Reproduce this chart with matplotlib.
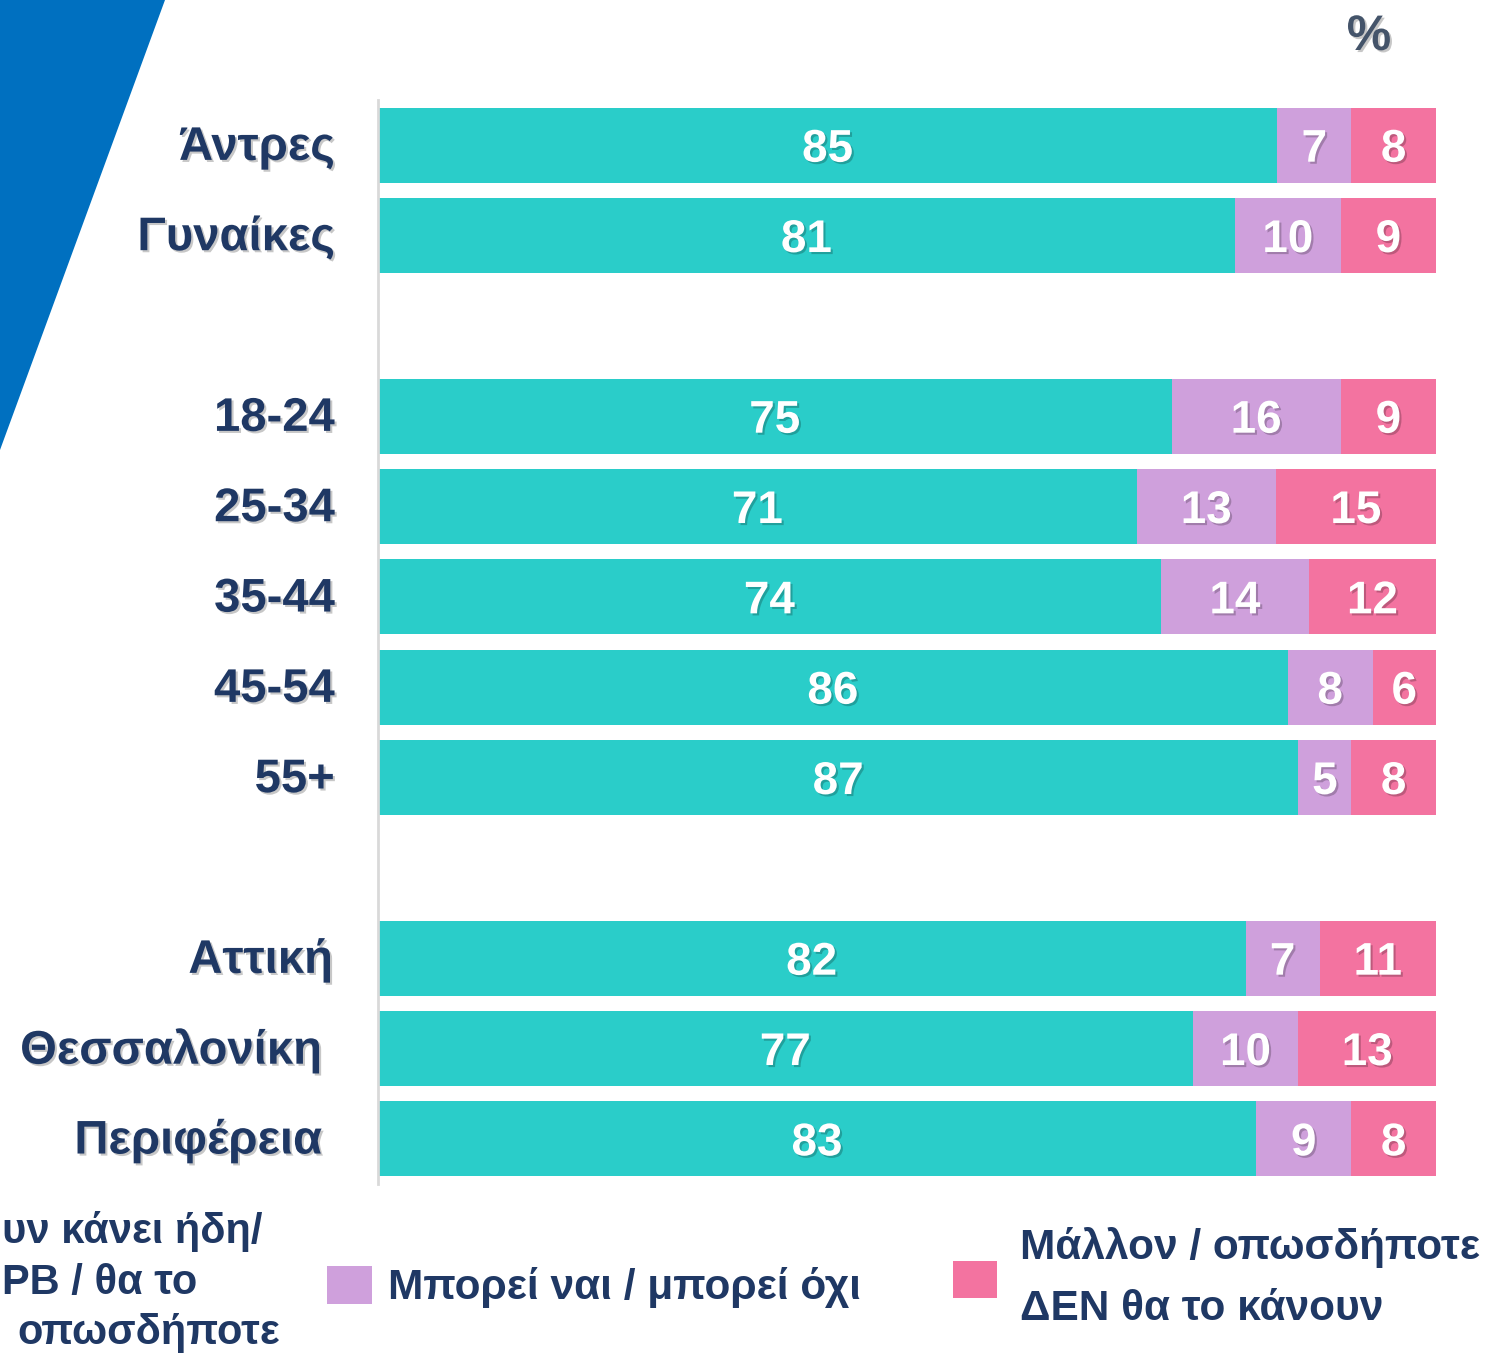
import matplotlib
matplotlib.use("Agg")
import matplotlib.pyplot as plt
import matplotlib.patheffects as pe
from matplotlib.patches import Polygon, Rectangle

plt.rcParams['font.family'] = ['Liberation Sans', 'DejaVu Sans']
plt.rcParams['font.weight'] = 'bold'

# ---------------- data ----------------
categories = ['Άντρες', 'Γυναίκες', '18-24', '25-34', '35-44', '45-54', '55+',
              'Αττική', 'Θεσσαλονίκη', 'Περιφέρεια']
yes_vals = [85, 81, 75, 71, 74, 86, 87, 82, 77, 83]
maybe_vals = [7, 10, 16, 13, 14, 8, 5, 7, 10, 9]
no_vals = [8, 9, 9, 15, 12, 6, 8, 11, 13, 8]
legend_maybe = 'Μπορεί ναι / μπορεί όχι'
legend_no = 'Μάλλον / οπωσδήποτε\nΔΕΝ θα το κάνουν'
# first legend entry is cut by the left edge in the original; only its visible part is shown
legend_yes_lines = ['υν κάνει ήδη/', 'ΡΒ / θα το', 'οπωσδήποτε']

# ---------------- style ----------------
C_YES = '#2ACDC9'
C_MAYBE = '#CFA0DC'
C_NO = '#F373A0'
NAVY = '#1F3864'
BLUE = '#0070C0'

row_pos = [0, 1, 3, 4, 5, 6, 7, 9, 10, 11]
label_right_px = [335, 335, 335, 335, 335, 335, 335, 333, 322, 322]

W, H = 1511, 1353
fig = plt.figure(figsize=(W / 100, H / 100), dpi=100)

# decorative blue triangle
fig.patches.append(Polygon([(0, 1), (165 / W, 1), (0, 1 - 450 / H)], closed=True,
                           transform=fig.transFigure, facecolor=BLUE, edgecolor='none', zorder=0))

ax = fig.add_axes([378 / W, (H - 1184) / H, (1436 - 378) / W, (1184 - 100) / H])

shadow = [pe.SimplePatchShadow(offset=(1.5, -1.5), shadow_rgbFace='#000000', alpha=0.22), pe.Normal()]

totals = [a + b + c for a, b, c in zip(yes_vals, maybe_vals, no_vals)]
yes_s = [v / t * 100 for v, t in zip(yes_vals, totals)]
maybe_s = [v / t * 100 for v, t in zip(maybe_vals, totals)]
no_s = [v / t * 100 for v, t in zip(no_vals, totals)]

bh = 0.83
ax.barh(row_pos, yes_s, height=bh, color=C_YES, edgecolor='none')
ax.barh(row_pos, maybe_s, left=yes_s, height=bh, color=C_MAYBE, edgecolor='none')
left_no = [a + b for a, b in zip(yes_s, maybe_s)]
ax.barh(row_pos, no_s, left=left_no, height=bh, color=C_NO, edgecolor='none')

for i, y in enumerate(row_pos):
    segs = [(0, yes_s[i], yes_vals[i]), (yes_s[i], maybe_s[i], maybe_vals[i]),
            (left_no[i], no_s[i], no_vals[i])]
    for l, w, v in segs:
        ax.text(l + w / 2, y + 0.05, f'{v}', ha='center', va='center', color='white',
                fontsize=33, fontweight='bold', path_effects=shadow)

ax.set_xlim(0, 100)
ax.set_ylim(11.5, -0.5)
ax.set_xticks([])
ax.set_yticks([])
for s in ['top', 'right', 'bottom']:
    ax.spines[s].set_visible(False)
ax.spines['left'].set_color('#D9D9D9')
ax.spines['left'].set_linewidth(2)

# category labels
for cat, y, xr in zip(categories, row_pos, label_right_px):
    yf = ax.transData.transform((0, y + 0.03))[1] / H
    fig.text(xr / W, yf, cat, ha='right', va='center', color=NAVY, fontsize=34,
             fontweight='bold', path_effects=shadow)

# percent sign
fig.text(1369 / W, 1 - 37 / H, '%', ha='center', va='center', color='#44546A', fontsize=36,
         fontweight='bold', path_effects=shadow)

# legend (first entry: visible remainder at the left edge)
fig.text(2 / W, 1 - 1232 / H, legend_yes_lines[0], ha='left', va='center', color=NAVY,
         fontsize=30, fontweight='bold')
fig.text(2 / W, 1 - 1283 / H, legend_yes_lines[1], ha='left', va='center', color=NAVY,
         fontsize=30, fontweight='bold')
fig.text(280 / W, 1 - 1333 / H, legend_yes_lines[2], ha='right', va='center', color=NAVY,
         fontsize=30, fontweight='bold')

fig.patches.append(Rectangle((327 / W, 1 - 1304 / H), 45 / W, 38 / H, transform=fig.transFigure,
                             facecolor=C_MAYBE, edgecolor='none'))
fig.text(388 / W, 1 - 1288 / H, legend_maybe, ha='left', va='center', color=NAVY, fontsize=30.5,
         fontweight='bold')

fig.patches.append(Rectangle((953 / W, 1 - 1298 / H), 44 / W, 37 / H, transform=fig.transFigure,
                             facecolor=C_NO, edgecolor='none'))
fig.text(1020 / W, 1 - 1278 / H, legend_no, ha='left', va='center', color=NAVY, fontsize=30.5,
         fontweight='bold', linespacing=1.7)

fig.savefig('out.png', dpi=100)
